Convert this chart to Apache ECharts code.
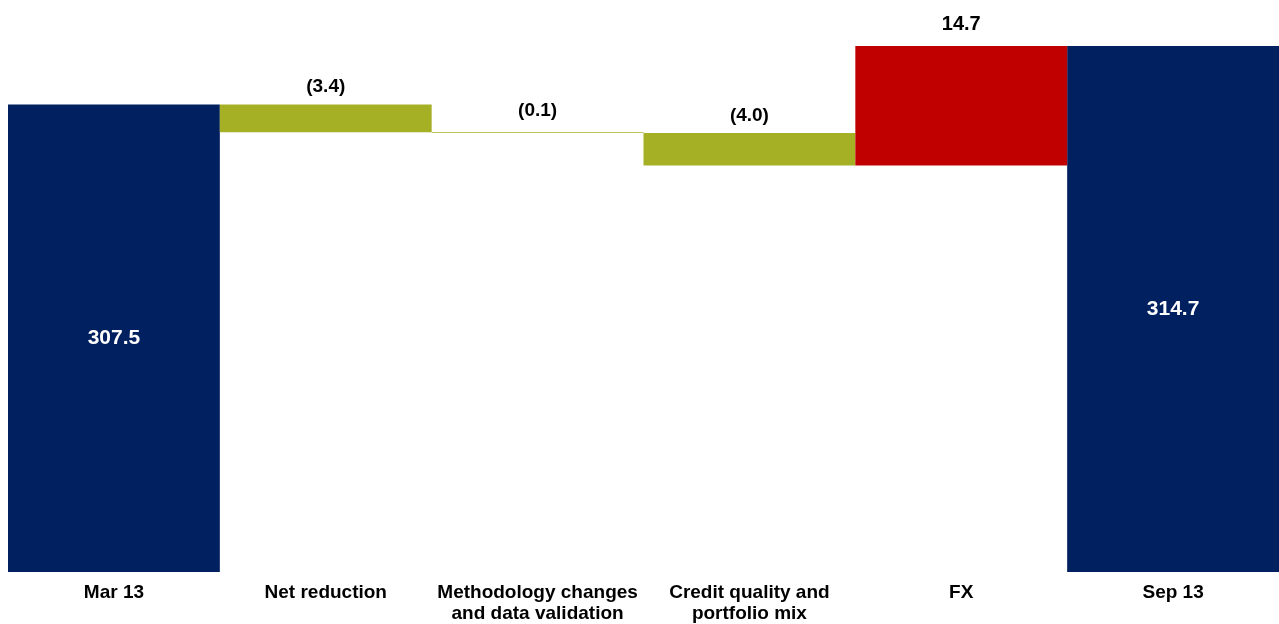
<!DOCTYPE html>
<html>
<head>
<meta charset="utf-8">
<script src="https://cdn.jsdelivr.net/npm/echarts@6/dist/echarts.min.js"></script>
<style>
  html, body { margin: 0; padding: 0; background: #ffffff; }
  #chart { width: 1279px; height: 624px; }
</style>
</head>
<body>
<div id="chart"></div>
<script>
// Waterfall: RWA bridge from Mar 13 to Sep 13
const categories = [
  'Mar 13',
  'Net reduction',
  'Methodology changes\nand data validation',
  'Credit quality and\nportfolio mix',
  'FX',
  'Sep 13'
];
const openingValue = 307.5;
const changes = [-3.4, -0.1, -4.0, 14.7];
const closingValue = 314.7;

const NAVY = '#002060';
const GREEN = '#A6B025';
const RED = '#C00000';
const FONT = '"Liberation Sans", Arial, sans-serif';

// Stack pieces: invisible floor + visible step for each change
const totals = [openingValue, ...changes.map(() => '-'), closingValue];
const floorVals = ['-'];
const downVals = ['-'];
const upVals = ['-'];
let running = openingValue;
changes.forEach(c => {
  const next = +(running + c).toFixed(1);
  floorVals.push(Math.min(running, next));
  downVals.push(c < 0 ? Math.abs(c) : '-');
  upVals.push(c > 0 ? c : '-');
  running = next;
});
floorVals.push('-');
downVals.push('-');
upVals.push('-');

// extra lift for labels sitting on very thin or tall steps
const labelLift = { 2: 12, 4: 12 };
const withLabelDistance = arr => arr.map((v, i) =>
  v === '-' ? '-' : { value: v, label: { distance: labelLift[i] || 8 } });

const chart = echarts.init(document.getElementById('chart'));
chart.setOption({
  animation: false,
  backgroundColor: '#ffffff',
  grid: { left: 8, right: 0, top: 3, bottom: 52, containLabel: false },
  xAxis: {
    type: 'category',
    data: categories,
    axisLine: { show: false },
    axisTick: { show: false },
    splitLine: { show: false },
    axisLabel: {
      interval: 0,
      margin: 10,
      color: '#000000',
      fontFamily: FONT,
      fontWeight: 'bold',
      fontSize: 19,
      lineHeight: 21
    }
  },
  yAxis: {
    type: 'value',
    show: false,
    min: 250,
    max: 320,
    interval: 10,
    splitLine: { show: false }
  },
  series: [
    {
      name: 'floor',
      type: 'bar',
      stack: 'wf',
      barWidth: '100%',
      silent: true,
      itemStyle: { color: 'transparent' },
      data: floorVals
    },
    {
      name: 'total',
      type: 'bar',
      stack: 'wf',
      barWidth: '100%',
      itemStyle: { color: NAVY },
      label: {
        show: true,
        position: 'inside',
        color: '#ffffff',
        fontFamily: FONT,
        fontWeight: 'bold',
        fontSize: 21,
        formatter: p => p.value.toFixed(1)
      },
      data: totals
    },
    {
      name: 'decrease',
      type: 'bar',
      stack: 'wf',
      barWidth: '100%',
      itemStyle: { color: GREEN },
      label: {
        show: true,
        position: 'top',
        color: '#000000',
        fontFamily: FONT,
        fontWeight: 'bold',
        fontSize: 19,
        formatter: p => '(' + p.value.toFixed(1) + ')'
      },
      data: withLabelDistance(downVals)
    },
    {
      name: 'increase',
      type: 'bar',
      stack: 'wf',
      barWidth: '100%',
      itemStyle: { color: RED },
      label: {
        show: true,
        position: 'top',
        color: '#000000',
        fontFamily: FONT,
        fontWeight: 'bold',
        fontSize: 20,
        formatter: p => p.value.toFixed(1)
      },
      data: withLabelDistance(upVals)
    }
  ]
});
</script>
</body>
</html>
